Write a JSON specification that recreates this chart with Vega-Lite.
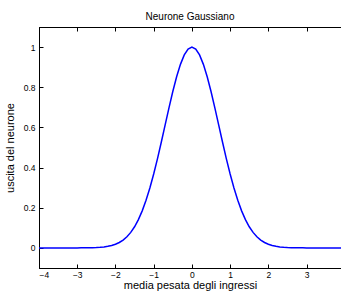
{
  "$schema": "https://vega.github.io/schema/vega-lite/v6.json",
  "width": 302,
  "height": 241,
  "autosize": {"type": "none"},
  "padding": {"left": 39, "top": 27, "right": 0, "bottom": 23},
  "background": "white",
  "title": {"text": "Neurone Gaussiano", "fontSize": 10, "font": "Liberation Sans", "fontWeight": "normal", "color": "black", "offset": 5},
  "config": {
    "view": {"stroke": "black", "strokeWidth": 1},
    "axis": {"grid": false, "domainColor": "black", "tickColor": "black", "labelColor": "black", "titleColor": "black", "labelFont": "Liberation Sans", "titleFont": "Liberation Sans", "labelFontSize": 8.5, "titleFontSize": 11, "titleFontWeight": "normal", "tickSize": -4}
  },
  "data": {"values": [
    {"x": -4.0, "y": 0.0}, {"x": -3.5, "y": 0.000005}, {"x": -3.0, "y": 0.00012},
    {"x": -2.9, "y": 0.00022}, {"x": -2.8, "y": 0.00039}, {"x": -2.7, "y": 0.00068}, {"x": -2.6, "y": 0.00116},
    {"x": -2.5, "y": 0.00193}, {"x": -2.4, "y": 0.00315}, {"x": -2.3, "y": 0.00504}, {"x": -2.2, "y": 0.00791},
    {"x": -2.1, "y": 0.01216}, {"x": -2.0, "y": 0.01832}, {"x": -1.9, "y": 0.02705}, {"x": -1.8, "y": 0.03916},
    {"x": -1.7, "y": 0.05558}, {"x": -1.6, "y": 0.0773}, {"x": -1.5, "y": 0.1054}, {"x": -1.4, "y": 0.14086},
    {"x": -1.3, "y": 0.18452}, {"x": -1.2, "y": 0.23693}, {"x": -1.1, "y": 0.2982}, {"x": -1.0, "y": 0.36788},
    {"x": -0.9, "y": 0.44486}, {"x": -0.8, "y": 0.52729}, {"x": -0.7, "y": 0.61263}, {"x": -0.6, "y": 0.69768},
    {"x": -0.5, "y": 0.7788}, {"x": -0.4, "y": 0.85214}, {"x": -0.3, "y": 0.91393}, {"x": -0.2, "y": 0.96079},
    {"x": -0.1, "y": 0.99005}, {"x": 0.0, "y": 1.0}, {"x": 0.1, "y": 0.99005}, {"x": 0.2, "y": 0.96079},
    {"x": 0.3, "y": 0.91393}, {"x": 0.4, "y": 0.85214}, {"x": 0.5, "y": 0.7788}, {"x": 0.6, "y": 0.69768},
    {"x": 0.7, "y": 0.61263}, {"x": 0.8, "y": 0.52729}, {"x": 0.9, "y": 0.44486}, {"x": 1.0, "y": 0.36788},
    {"x": 1.1, "y": 0.2982}, {"x": 1.2, "y": 0.23693}, {"x": 1.3, "y": 0.18452}, {"x": 1.4, "y": 0.14086},
    {"x": 1.5, "y": 0.1054}, {"x": 1.6, "y": 0.0773}, {"x": 1.7, "y": 0.05558}, {"x": 1.8, "y": 0.03916},
    {"x": 1.9, "y": 0.02705}, {"x": 2.0, "y": 0.01832}, {"x": 2.1, "y": 0.01216}, {"x": 2.2, "y": 0.00791},
    {"x": 2.3, "y": 0.00504}, {"x": 2.4, "y": 0.00315}, {"x": 2.5, "y": 0.00193}, {"x": 2.6, "y": 0.00116},
    {"x": 2.7, "y": 0.00068}, {"x": 2.8, "y": 0.00039}, {"x": 2.9, "y": 0.00022}, {"x": 3.0, "y": 0.00012},
    {"x": 3.5, "y": 0.000005}, {"x": 3.9, "y": 0.0}
  ]},
  "layer": [
    {
      "mark": {"type": "line", "color": "#0000ff", "strokeWidth": 1.5, "clip": true},
      "encoding": {
        "x": {"field": "x", "type": "quantitative", "scale": {"domain": [-4, 3.9], "nice": false, "zero": false},
              "axis": {"orient": "bottom", "values": [-4, -3, -2, -1, 0, 1, 2, 3], "format": "d", "labelPadding": 6, "title": "media pesata degli ingressi", "titlePadding": 1}},
        "y": {"field": "y", "type": "quantitative", "scale": {"domain": [-0.1, 1.1], "nice": false, "zero": false},
              "axis": {"values": [0, 0.2, 0.4, 0.6, 0.8, 1], "format": "~g", "labelPadding": 8, "title": "uscita del neurone", "titlePadding": 8}}
      }
    },
    {
      "mark": {"type": "line", "opacity": 0},
      "encoding": {
        "x": {"field": "x", "type": "quantitative", "axis": {"orient": "top", "values": [-4, -3, -2, -1, 0, 1, 2, 3], "labels": false, "title": null}},
        "y": {"field": "y", "type": "quantitative"}
      }
    }
  ],
  "resolve": {"axis": {"x": "independent"}}
}
